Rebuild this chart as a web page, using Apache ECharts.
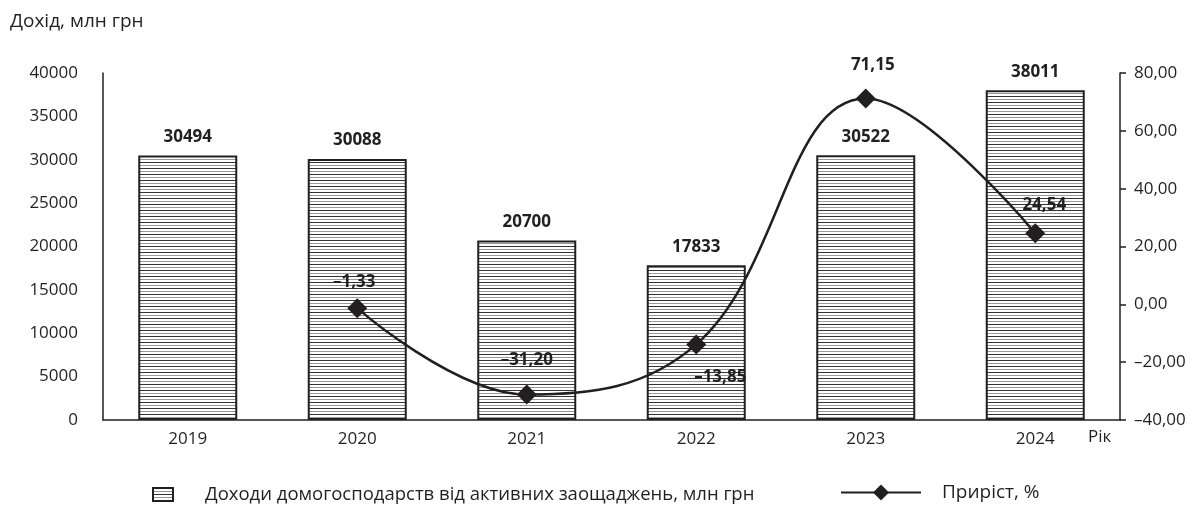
<!DOCTYPE html>
<html>
<head>
<meta charset="utf-8">
<script src="https://cdn.jsdelivr.net/npm/echarts@6/dist/echarts.min.js"></script>
<style>
html,body{margin:0;padding:0;background:#fff;}
#chart{width:1204px;height:507px;}
</style>
</head>
<body>
<div id="chart"></div>
<script>
const categories = ['2019', '2020', '2021', '2022', '2023', '2024'];
const incomeValues = [30494, 30088, 20700, 17833, 30522, 38011];
const growthValues = [null, -1.33, -31.20, -13.85, 71.15, 24.54];
const incomeName = 'Доходи домогосподарств від активних заощаджень, млн грн';
const growthName = 'Приріст, %';

const INK = '#231f20';
const FONT = '"Open Sans", "Noto Sans", sans-serif';

function fmt(v, d) {
  const s = Math.abs(v).toFixed(d).replace('.', ',');
  return (v < 0 ? '\u2013' : '') + s;
}

// horizontal hatch pattern
const pc = document.createElement('canvas');
pc.width = 8; pc.height = 6;
const pctx = pc.getContext('2d');
pctx.fillStyle = '#ffffff';
pctx.fillRect(0, 0, 8, 6);
pctx.fillStyle = '#333333';
pctx.fillRect(0, 0, 8, 1);
pctx.fillStyle = '#999999';
pctx.fillRect(0, 3, 8, 1);
const hatch = { image: pc, repeat: 'repeat' };

const growthLabelCfg = [
  null,
  { position: 'top', distance: 8, offset: [-3, 0] },
  { position: 'top', distance: 16, offset: [0, 0] },
  { position: 'bottom', distance: 14, offset: [24, 0] },
  { position: 'top', distance: 15, offset: [7, 0] },
  { position: 'top', distance: 10, offset: [9, 0] }
];

const growthData = growthValues.map((v, i) => {
  if (v === null) return { value: null };
  return { value: v, label: growthLabelCfg[i] };
});

const chart = echarts.init(document.getElementById('chart'));
chart.setOption({
  animation: false,
  backgroundColor: '#ffffff',
  textStyle: { fontFamily: FONT, color: INK },
  grid: { left: 103, right: 84, top: 73, bottom: 87, containLabel: false },
  graphic: [
    { type: 'text', left: 10, top: 12, style: { text: 'Дохід, млн грн', fontSize: 19, fontFamily: FONT, fill: INK } },
    { type: 'text', left: 1088, top: 429, style: { text: 'Рік', fontSize: 17, fontFamily: FONT, fill: INK } }
  ],
  legend: [
    {
      data: [{ name: incomeName, icon: 'rect' }], left: 147, top: 480,
      itemWidth: 20, itemHeight: 13, itemGap: 10,
      textStyle: { fontSize: 18.5, fontFamily: FONT, color: INK, padding: [0, 0, 0, 27] }
    },
    {
      data: [growthName], left: 835, top: 478,
      itemWidth: 80, itemHeight: 20, itemGap: 10,
      textStyle: { fontSize: 19, fontFamily: FONT, color: INK, padding: [0, 0, 0, 16] }
    }
  ],
  xAxis: {
    type: 'category', data: categories,
    axisLine: { lineStyle: { color: INK, width: 1.5 } },
    axisTick: { show: false },
    axisLabel: { fontSize: 17, fontFamily: FONT, color: INK, margin: 11 }
  },
  yAxis: [
    {
      type: 'value', min: 0, max: 40000, interval: 5000,
      axisLine: { show: true, lineStyle: { color: INK, width: 1.5 } },
      axisTick: { show: false },
      splitLine: { show: false },
      axisLabel: { fontSize: 17, fontFamily: FONT, color: INK, margin: 25, formatter: v => String(v) }
    },
    {
      type: 'value', min: -40, max: 80, interval: 20, position: 'right',
      axisLine: { show: true, lineStyle: { color: INK, width: 1.5 } },
      axisTick: { show: true, length: 6, lineStyle: { color: INK, width: 1.5 } },
      splitLine: { show: false },
      axisLabel: { fontSize: 17, fontFamily: FONT, color: INK, margin: 14, formatter: v => fmt(v, 2) }
    }
  ],
  series: [
    {
      name: incomeName, type: 'bar', data: incomeValues, barWidth: 99,
      itemStyle: { color: hatch, borderColor: INK, borderWidth: 2 },
      label: { show: true, position: 'top', distance: 10, fontSize: 17, fontWeight: 'bold', fontFamily: FONT, color: INK }
    },
    {
      name: growthName, type: 'line', yAxisIndex: 1, data: growthData,
      smooth: 0.4, connectNulls: false,
      symbol: 'diamond', symbolSize: 20, showSymbol: true,
      lineStyle: { color: INK, width: 2.5 },
      itemStyle: { color: INK },
      label: { show: true, fontSize: 17, fontWeight: 'bold', fontFamily: FONT, color: INK,
        formatter: p => fmt(p.value, 2) },
      z: 5
    }
  ]
});
</script>
</body>
</html>
